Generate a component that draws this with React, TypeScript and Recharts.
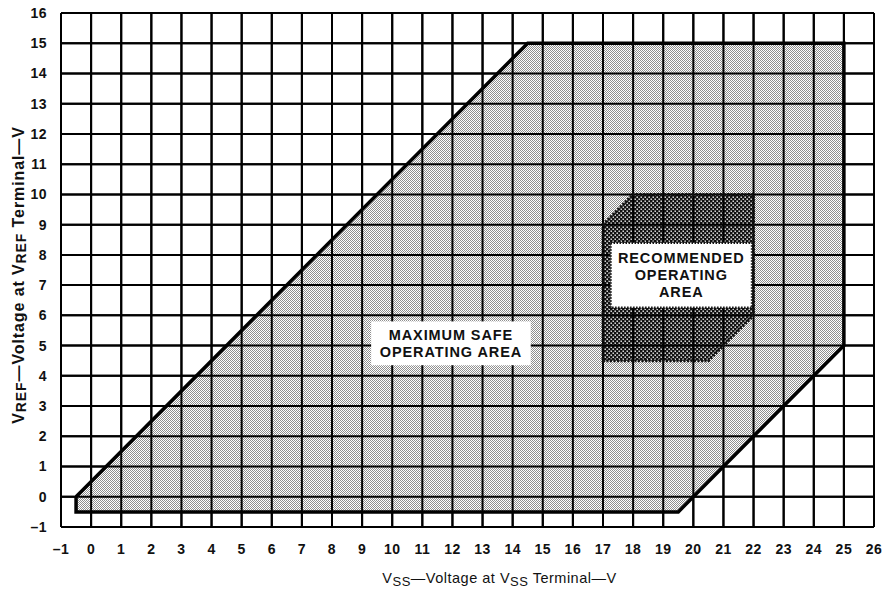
import React from 'react';
import { ComposedChart, Area, Line, XAxis, YAxis, CartesianGrid, ReferenceArea, ReferenceLine } from 'recharts';

const xTicks = [-1, 0, 1, 2, 3, 4, 5, 6, 7, 8, 9, 10, 11, 12, 13, 14, 15, 16, 17, 18, 19, 20, 21, 22, 23, 24, 25, 26];
const yTicks = [-1, 0, 1, 2, 3, 4, 5, 6, 7, 8, 9, 10, 11, 12, 13, 14, 15, 16];

// maximum safe operating area: upper / lower edge at each corner x
const safeX = [-0.5, 14.5, 19.5, 25];
const safeHigh = [0, 15, 15, 15];
const safeLow = [-0.5, -0.5, -0.5, 5];

// recommended operating area
const recX = [17, 18, 20.5, 22];
const recHigh = [9, 10, 10, 10];
const recLow = [4.5, 4.5, 4.5, 6];

const FONT = '"Liberation Sans", Arial, Helvetica, sans-serif';

const toRange = (xs: number[], lo: number[], hi: number[]) =>
  xs.map((x, i) => ({ x, range: [lo[i], hi[i]] }));

// closed outline: along the top, back along the bottom
const toOutline = (xs: number[], lo: number[], hi: number[]) => {
  const pts = xs.map((x, i) => ({ x, y: hi[i] }));
  for (let i = xs.length - 1; i >= 0; i--) pts.push({ x: xs[i], y: lo[i] });
  pts.push({ x: xs[0], y: hi[0] });
  return pts;
};

const safeArea = toRange(safeX, safeLow, safeHigh);
const recArea = toRange(recX, recLow, recHigh);
const safeOutline = toOutline(safeX, safeLow, safeHigh);
const recOutline = toOutline(recX, recLow, recHigh);

const fmt = (v: number) => (v < 0 ? `\u2013${Math.abs(v)}` : `${v}`);

// white box + text
const BoxLabel = ({ viewBox, lines, dotted }: any) => {
  if (!viewBox) return null;
  const { x, y, width, height } = viewBox;
  const cx = x + width / 2;
  const top = y + height / 2 - ((lines.length - 1) * 17) / 2;
  return (
    <g>
      <rect x={x} y={y} width={width} height={height} fill="#fff"
        stroke={dotted ? '#111' : 'none'} strokeWidth={2.5} strokeDasharray="1.5 1.5" />
      <text x={cx} y={top} textAnchor="middle" dominantBaseline="central"
        fontFamily={FONT} fontSize={14.5} fontWeight={600} letterSpacing={0.9} fill="#111">
        {lines.map((l: string, i: number) => (
          <tspan key={i} x={cx} y={top + i * 17}>{l}</tspan>
        ))}
      </text>
    </g>
  );
};

const YTitle = ({ viewBox }: any) => {
  const cx = 18;
  const cy = viewBox ? viewBox.y + viewBox.height / 2 + 5 : 275;
  return (
    <text x={cx} y={cy} textAnchor="middle" transform={`rotate(-90, ${cx}, ${cy})`}
      fontFamily={FONT} fontSize={16} fontWeight={600} letterSpacing={0.9} fill="#111"
      dominantBaseline="central">
      <tspan>V</tspan>
      <tspan dy={3} fontSize={14}>REF</tspan>
      <tspan dy={-3}>{'\u2014Voltage at V'}</tspan>
      <tspan dy={3} fontSize={14}>REF</tspan>
      <tspan dy={-3}>{' Terminal\u2014V'}</tspan>
    </text>
  );
};

const XTitle = ({ viewBox }: any) => {
  const cx = viewBox ? viewBox.x + viewBox.width / 2 + 32 : 499;
  const cy = 583;
  return (
    <text x={cx} y={cy} textAnchor="middle" fontFamily={FONT} fontSize={14.5} fontWeight={500}
      letterSpacing={0.5} fill="#111">
      <tspan>V</tspan>
      <tspan dy={3} fontSize={13}>SS</tspan>
      <tspan dy={-3}>{'\u2014Voltage at V'}</tspan>
      <tspan dy={3} fontSize={13}>SS</tspan>
      <tspan dy={-3}>{' Terminal\u2014V'}</tspan>
    </text>
  );
};

const tickStyle = { fill: '#111', fontSize: 14, fontWeight: 700, fontFamily: FONT, letterSpacing: 0.5 };

export default function App() {
  return (
    <div style={{ position: 'absolute', left: 0, top: 0, width: 885, height: 598, background: '#fff' }}>
      <ComposedChart width={885} height={598} margin={{ top: 13, right: 11, bottom: 0, left: 0 }}>
        <defs>
          <pattern id="lightDots" width="2" height="2" patternUnits="userSpaceOnUse">
            <rect width="2" height="2" fill="#fff" />
            <rect x="0" y="0" width="1" height="1" fill="#8f8f8f" />
            <rect x="1" y="1" width="1" height="1" fill="#8f8f8f" />
          </pattern>
          <pattern id="darkDots" width="4" height="4" patternUnits="userSpaceOnUse">
            <rect width="4" height="4" fill="#111" />
            <rect x="0.5" y="0.5" width="1.4" height="1.4" fill="#fff" />
            <rect x="2.5" y="2.5" width="1.4" height="1.4" fill="#fff" />
          </pattern>
        </defs>
        <CartesianGrid stroke="#000" strokeWidth={2} strokeOpacity={1} fill="none" />
        <XAxis dataKey="x" type="number" domain={[-1, 26]} ticks={xTicks} interval={0}
          allowDataOverflow tickFormatter={fmt} tickLine={false} axisLine={{ stroke: '#000', strokeWidth: 2 }}
          height={71} tickMargin={11} tick={tickStyle}
          label={{ content: <XTitle /> }} />
        <YAxis type="number" domain={[-1, 16]} ticks={yTicks} interval={0}
          allowDataOverflow tickFormatter={fmt} tickLine={false} axisLine={{ stroke: '#000', strokeWidth: 2 }}
          width={61} tickMargin={8} tick={tickStyle}
          label={{ content: <YTitle /> }} />
        <Area data={safeArea} dataKey="range" type="linear" stroke="none" fill="url(#lightDots)"
          fillOpacity={1} isAnimationActive={false} dot={false} activeDot={false} />
        <Area data={recArea} dataKey="range" type="linear" stroke="none" fill="url(#darkDots)"
          fillOpacity={1} isAnimationActive={false} dot={false} activeDot={false} />
        {xTicks.map((t) => (
          <ReferenceLine key={`vx${t}`} x={t} stroke="#000" strokeWidth={2} />
        ))}
        {yTicks.map((t) => (
          <ReferenceLine key={`hy${t}`} y={t} stroke="#000" strokeWidth={2} />
        ))}
        <Line data={safeOutline} dataKey="y" type="linear" stroke="#000" strokeWidth={3.5}
          dot={false} activeDot={false} isAnimationActive={false} />
        <Line data={recOutline} dataKey="y" type="linear" stroke="#111" strokeWidth={3}
          strokeDasharray="2 1.5" dot={false} activeDot={false} isAnimationActive={false} />
        <ReferenceArea x1={9.3} x2={14.6} y1={4.35} y2={5.8} fill="none" stroke="none" zIndex={3000}
          label={<BoxLabel lines={['MAXIMUM SAFE', 'OPERATING AREA']} />} />
        <ReferenceArea x1={17.25} x2={21.95} y1={6.25} y2={8.4} fill="none" stroke="none" zIndex={3000}
          label={<BoxLabel dotted lines={['RECOMMENDED', 'OPERATING', 'AREA']} />} />
      </ComposedChart>
    </div>
  );
}
